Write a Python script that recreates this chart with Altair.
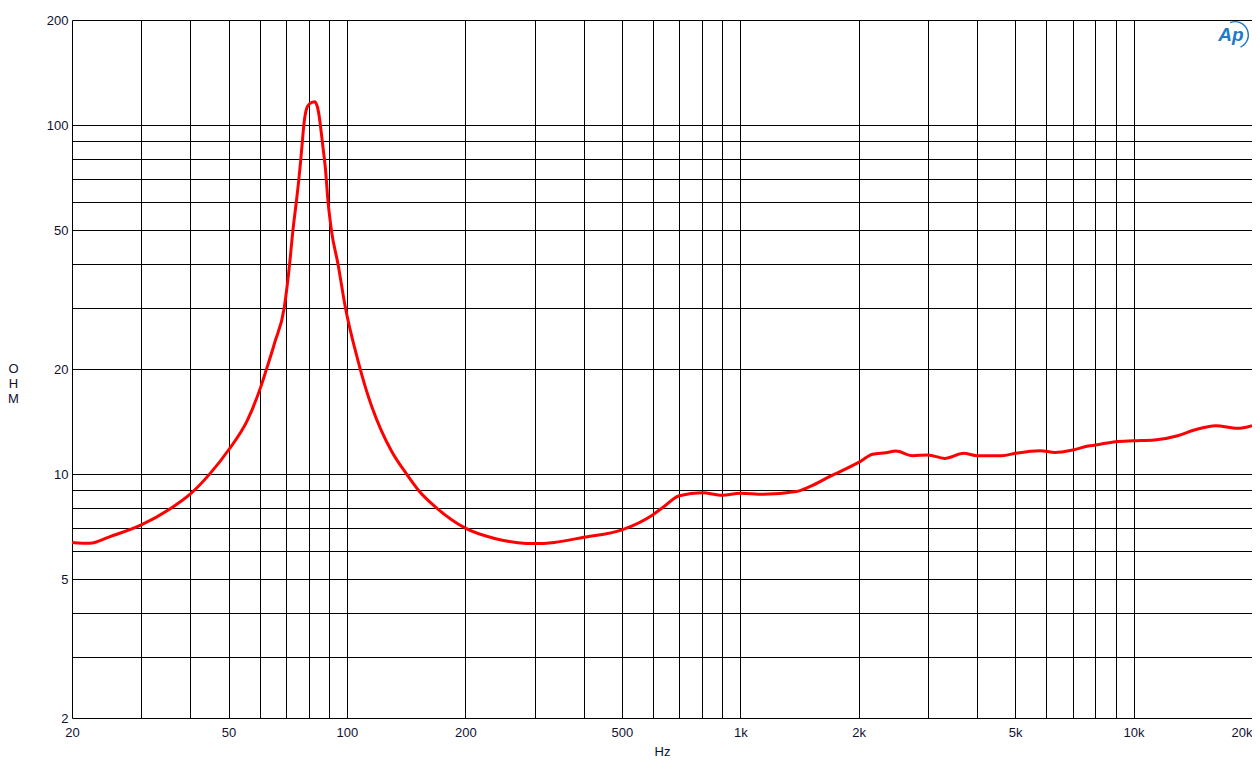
import altair as alt
import pandas as pd

freq_hz = [20, 22.2, 25, 30, 35.4, 40, 44.7, 50, 55.9, 60.2, 62.2, 65.6, 69.3, 71.5, 72.9,
           74.2, 75.2, 76.1, 76.9, 77.7, 78.8, 80.2, 82.7, 84.0, 85.0, 85.9, 86.9, 88.1,
           89.5, 91.3, 94.9, 99.1, 106.6, 112, 115.7, 130, 141.8, 151.8, 168.9, 200, 237.4,
           271.9, 300, 336.6, 400, 500, 600, 639, 700, 800, 900, 1000, 1144, 1388, 1501,
           1686, 2000, 2170, 2346, 2486, 2738, 3000, 3307, 3700, 4000, 4628, 5000, 5785,
           6312, 7000, 7666, 8000, 9000, 10000, 11302, 12948, 14268, 16186, 18364, 20000]
impedance_ohm = [6.37, 6.33, 6.62, 7.15, 7.93, 8.77, 9.98, 11.72, 14.29, 17.6, 19.7, 23.9, 30,
                 40, 50, 59.0, 67.3, 76.8, 87.7, 100, 110.5, 114.9, 116.7, 113.4, 106.1, 96.8,
                 86.5, 75.8, 60.6, 50, 40, 30, 21.2, 17.4, 15.6, 11.6, 10, 9, 8, 7, 6.54, 6.36,
                 6.32, 6.37, 6.59, 6.92, 7.65, 8.06, 8.67, 8.84, 8.69, 8.81, 8.75, 8.91, 9.2,
                 9.83, 10.8, 11.39, 11.51, 11.64, 11.29, 11.34, 11.09, 11.47, 11.29, 11.29,
                 11.47, 11.67, 11.53, 11.72, 12.03, 12.11, 12.38, 12.45, 12.52, 12.88, 13.37,
                 13.76, 13.52, 13.76]

x_grid = [20, 30, 40, 50, 60, 70, 80, 90, 100, 200, 300, 400, 500, 600, 700, 800, 900,
          1000, 2000, 3000, 4000, 5000, 6000, 7000, 8000, 9000, 10000, 20000]
x_labeled = [20, 50, 100, 200, 500, 1000, 2000, 5000, 10000, 20000]
y_grid = [2, 3, 4, 5, 6, 7, 8, 9, 10, 20, 30, 40, 50, 60, 70, 80, 90, 100, 200]
y_labeled = [2, 5, 10, 20, 50, 100, 200]

df = pd.DataFrame({"f": freq_hz, "z": impedance_ohm})

FONT = "Liberation Sans"
TXT = "#101030"
PLOT_W = 1180
PLOT_H = 698

xl = "[" + ",".join(str(v) for v in x_labeled) + "]"
yl = "[" + ",".join(str(v) for v in y_labeled) + "]"

x_axis = alt.Axis(
    values=x_grid, grid=True, ticks=False, domain=False,
    labelExpr=f"indexof({xl}, datum.value) >= 0 ? (datum.value >= 1000 ? (datum.value/1000) + 'k' : '' + datum.value) : ''",
    labelAlign=alt.expr("datum.value >= 20000 ? 'right' : 'center'"),
    labelFont=FONT, labelFontSize=13, labelColor=TXT, labelPadding=8,
    labelOverlap=False, labelFlush=False,
    title="Hz", titleFont=FONT, titleFontSize=13, titleFontWeight="normal",
    titleColor=TXT, titleY=27, titleBaseline="top",
    gridColor="#000000", gridOpacity=1, gridWidth=1,
)
y_axis = alt.Axis(
    values=y_grid, grid=True, ticks=False, domain=False,
    labelExpr=f"indexof({yl}, datum.value) >= 0 ? '' + datum.value : ''",
    labelFont=FONT, labelFontSize=13, labelColor=TXT, labelPadding=4,
    labelOverlap=False, labelFlush=False,
    title=["O", "H", "M"], titleFont=FONT, titleFontSize=13, titleFontWeight="normal",
    titleColor=TXT, titleAngle=0, titleAlign="center", titleBaseline="middle",
    titleX=-59, titleY=348.5, titleLineHeight=15,
    gridColor="#000000", gridOpacity=1, gridWidth=1,
)

line = alt.Chart(df).mark_line(color="#ff0000", strokeWidth=3, interpolate="monotone", clip=True).encode(
    x=alt.X("f:Q", scale=alt.Scale(type="log", domain=[20, 20000], nice=False), axis=x_axis),
    y=alt.Y("z:Q", scale=alt.Scale(type="log", domain=[2, 200], nice=False), axis=y_axis),
)

logo_df = pd.DataFrame({"t": ["Ap"]})
logo_text = alt.Chart(logo_df).mark_text(
    font=FONT, fontSize=19, fontStyle="italic", fontWeight="bold", color="#1f78c8",
    align="center", baseline="middle",
).encode(x=alt.value(PLOT_W - 21), y=alt.value(15), text="t:N")
logo_arc = alt.Chart(logo_df).mark_arc(
    color="#1f78c8", radius=14, radius2=12.6,
).encode(x=alt.value(PLOT_W - 17), y=alt.value(15), theta=alt.value(5.9), theta2=alt.value(9.0))

chart = alt.layer(line, logo_arc, logo_text).properties(
    width=PLOT_W, height=PLOT_H,
    autosize=alt.AutoSizeParams(type="none"),
    padding={"left": 64, "top": 12, "right": 0, "bottom": 45},
).configure_view(stroke="#000000", strokeWidth=1).configure(background="#ffffff")

chart.save("out.html", embed_options={"renderer": "svg", "actions": False})
